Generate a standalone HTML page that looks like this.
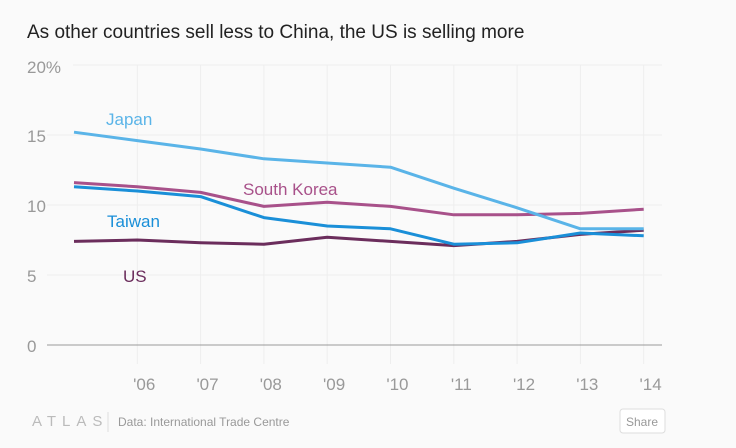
<!DOCTYPE html>
<html><head><meta charset="utf-8"><style>
body{margin:0;width:736px;height:443px;background:#fafafa;font-family:"Liberation Sans",sans-serif;overflow:hidden}
</style></head><body>
<svg width="736" height="443">
<text x="27" y="38" font-size="19" fill="#222">As other countries sell less to China, the US is selling more</text>
<g id="grid"></g><g id="lines"></g>
<text x="27" y="73" font-size="17" fill="#999">20%</text>
<text x="32" y="426" font-size="15" fill="#bbb" letter-spacing="6">ATLAS</text>
<line x1="108" y1="412" x2="108" y2="432" stroke="#ddd"/>
<text x="118" y="426" font-size="12" fill="#999">Data: International Trade Centre</text>
<g><rect x="620" y="409" width="45" height="24" rx="3" fill="#fff" stroke="#ddd"/><text x="642" y="426" font-size="12" fill="#999" text-anchor="middle">Share</text></g>
</svg>
<script>
const years=[2005,2006,2007,2008,2009,2010,2011,2012,2013,2014];
const xLabels=["'06","'07","'08","'09","'10","'11","'12","'13","'14"];
const yTicks=[0,5,10,15];
const japan=[15.2,14.6,14.0,13.3,13.0,12.7,11.2,9.8,8.3,8.3];
const korea=[11.6,11.3,10.9,9.9,10.2,9.9,9.3,9.3,9.4,9.7];
const taiwan=[11.3,11.0,10.6,9.1,8.5,8.3,7.2,7.3,8.0,7.8];
const us=[7.4,7.5,7.3,7.2,7.7,7.4,7.1,7.4,7.9,8.2];
const NS="http://www.w3.org/2000/svg";
const x=y=>74+(y-2005)*63.3, yS=v=>345-v*14;
const grid=document.getElementById('grid'), lines=document.getElementById('lines');
function mk(tag,at,parent){const e=document.createElementNS(NS,tag);for(const k in at)e.setAttribute(k,at[k]);parent.appendChild(e);return e;}
[20,15,10,5].forEach(v=>{const l=mk('line',{x1:v==20?73:47,x2:662,y1:yS(v),y2:yS(v),stroke:'#eee'},grid);

});
yTicks.forEach(v=>{const t=mk('text',{x:27,y:yS(v)+7,'font-size':17,fill:'#999'},grid);t.textContent=v;

});
years.slice(1).forEach((yr,i)=>{const l=mk('line',{x1:x(yr),x2:x(yr),y1:65,y2:364,stroke:'#eee'},grid);


const t=mk('text',{x:x(yr)+18,y:390,'font-size':17,fill:'#999','text-anchor':'end'},grid);t.textContent=xLabels[i];

});
const base=mk('line',{x1:47,x2:662,y1:yS(0),y2:yS(0),stroke:'#999'},grid);


const series=[[us,'#6b2d5c','us'],[korea,'#a8518a','south-korea'],[taiwan,'#1a8fd8','taiwan'],[japan,'#5ab4e8','japan']];
series.forEach(([d,c,n])=>{const p=mk('polyline',{points:d.map((v,i)=>x(years[i])+','+yS(v)).join(' '),fill:'none',stroke:c,'stroke-width':3,'stroke-linejoin':'round'},lines);

});
const labs=[['Japan',106,125,'#5ab4e8'],['South Korea',243,195,'#a8518a'],['Taiwan',107,227,'#1a8fd8'],['US',123,282,'#6b2d5c']];
labs.forEach(([t,lx,ly,c])=>{const e=mk('text',{x:lx,y:ly,'font-size':17,fill:c},lines);e.textContent=t;

});
</script>
</body></html>
